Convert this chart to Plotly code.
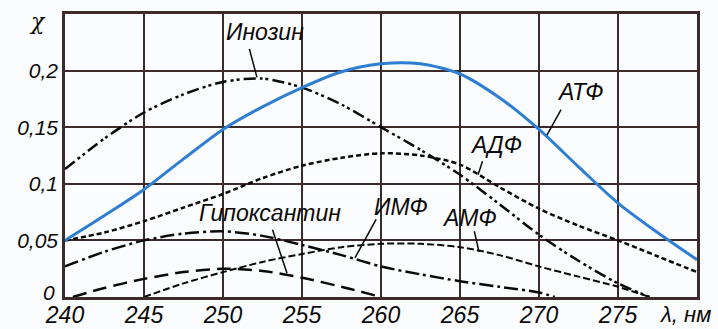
import plotly.graph_objects as go

# ---- data ----
atp_x = [240, 242.5, 245, 247.5, 250, 252.5, 255, 257.5, 260, 262.5, 265, 267.5, 270, 272.5, 275, 277.5, 280]
atp_y = [0.05, 0.072, 0.095, 0.122, 0.148, 0.168, 0.185, 0.199, 0.206, 0.206, 0.197, 0.176, 0.148, 0.115, 0.083, 0.057, 0.033]

adp_x = [240, 242.5, 245, 247.5, 250, 252.5, 255, 257.5, 260, 262.5, 265, 267.5, 270, 272.5, 275, 277.5, 280]
adp_y = [0.05, 0.057, 0.067, 0.079, 0.091, 0.105, 0.116, 0.123, 0.127, 0.125, 0.117, 0.097, 0.078, 0.063, 0.05, 0.036, 0.022]

amp_x = [245, 247.5, 250, 252.5, 255, 257.5, 260, 262.5, 265, 267.5, 270, 272.5, 275, 277]
amp_y = [0.0, 0.012, 0.022, 0.031, 0.038, 0.044, 0.047, 0.047, 0.044, 0.037, 0.027, 0.018, 0.009, 0.0]

ino_x = [240, 242.5, 245, 247.5, 250, 252.5, 255, 257.5, 260, 262.5, 265, 267.5, 270, 272.5, 275, 277]
ino_y = [0.113, 0.14, 0.163, 0.179, 0.19, 0.193, 0.185, 0.17, 0.15, 0.13, 0.108, 0.082, 0.055, 0.032, 0.012, 0.0]

imp_x = [240, 242.5, 245, 247.5, 250, 252.5, 255, 257.5, 260, 262.5, 265, 267.5, 270, 271]
imp_y = [0.027, 0.04, 0.05, 0.056, 0.058, 0.054, 0.046, 0.037, 0.027, 0.02, 0.014, 0.009, 0.004, 0.0]

hyp_x = [240.5, 242.5, 245, 247.5, 250, 252.5, 255, 257.5, 260]
hyp_y = [0.0, 0.008, 0.016, 0.022, 0.025, 0.023, 0.017, 0.009, 0.0]

x_ticks = [240, 245, 250, 255, 260, 265, 270, 275]
x_ticktext = ["240", "245", "250", "255", "260", "265", "270", "275"]
y_ticks = [0, 0.05, 0.1, 0.15, 0.2]
y_ticktext = ["0", "0,05", "0,1", "0,15", "0,2"]

# label: (text, text_x, text_y, tip_x, tip_y, ax, ay)
labels = [
    ("Инозин", 252.66, 0.2345, 252.15, 0.194, -8, -30),
    ("АТФ", 272.6, 0.181, 270.5, 0.143, 15, -27),
    ("АДФ", 267.3, 0.1345, 266.14, 0.108, 5, -15),
    ("ИМФ", 261.27, 0.0796, 258.35, 0.0345, 22, -40),
    ("АМФ", 265.63, 0.070, 266.2, 0.040, -5, -22),
    ("Гипоксантин", 252.97, 0.0743, 254.05, 0.021, -15, -45),
]

FONT = "Liberation Sans, Arial, sans-serif"
INK = "#0a0a0a"
GRID = "#3b2b2b"

fig = go.Figure()

def add(x, y, color, width, dash):
    fig.add_trace(go.Scatter(x=x, y=y, mode="lines",
                             line=dict(color=color, width=width, dash=dash, shape="spline", smoothing=0.8),
                             hoverinfo="skip", showlegend=False))

add(ino_x, ino_y, INK, 2.5, "12px,4px,3px,3px,3px,4px")
add(adp_x, adp_y, INK, 2.5, "5px,3px")
add(amp_x, amp_y, INK, 2, "7px,3px")
add(imp_x, imp_y, INK, 2.5, "14px,4px,3px,4px")
add(hyp_x, hyp_y, INK, 2.5, "14px,7px")
add(atp_x, atp_y, "#2e7fd2", 3, "solid")

for text, tx, ty, px, py, ax, ay in labels:
    fig.add_annotation(x=tx, y=ty, text=text, showarrow=False, xanchor="center", yanchor="middle",
                       font=dict(family=FONT, size=23, color=INK, style="italic"))
    fig.add_annotation(x=px, y=py, text="", showarrow=True, arrowhead=0, arrowwidth=1.5,
                       arrowcolor=INK, ax=ax, ay=ay, standoff=0, startstandoff=0)

# the "0" tick label of the y axis sits slightly above the corner, clear of "240"
fig.add_annotation(xref="paper", yref="y", x=-0.012, y=y_ticks[0], text=y_ticktext[0], showarrow=False,
                   xanchor="right", yanchor="middle", yshift=5,
                   font=dict(family=FONT, size=21, color=INK, style="italic"))
fig.add_annotation(xref="paper", yref="paper", x=-0.043, y=0.972, text="χ", showarrow=False,
                   xanchor="center", yanchor="middle",
                   font=dict(family="DejaVu Serif, serif", size=22, color=INK, style="italic"))
fig.add_annotation(xref="paper", yref="paper", x=1.0253, y=-0.012, text="λ, нм", showarrow=False,
                   xanchor="right", yanchor="top",
                   font=dict(family=FONT, size=22, color=INK, style="italic"))

axis_common = dict(showgrid=True, gridcolor=GRID, gridwidth=2, showline=True, linecolor=GRID,
                   linewidth=2.5, mirror=True, zeroline=False, ticks="", automargin=False)
fig.update_xaxes(range=[240, 280], tickvals=x_ticks + [280], ticktext=x_ticktext + [""],
                 ticklabelstandoff=-4,
                 tickfont=dict(family=FONT, size=23, color=INK, style="italic"), **axis_common)
fig.update_yaxes(range=[0, 0.25], tickvals=y_ticks[1:] + [0.25], ticktext=y_ticktext[1:] + [""],
                 tickfont=dict(family=FONT, size=21, color=INK, style="italic"), **axis_common)

fig.update_layout(width=718, height=329, margin=dict(l=65, r=21, t=14, b=32),
                  paper_bgcolor="#fbfcfd", plot_bgcolor="#fbfcfd")

fig.write_html("out.html", config={"displayModeBar": False},
               post_script="document.body.style.margin='0px';document.body.style.overflow='hidden';")
